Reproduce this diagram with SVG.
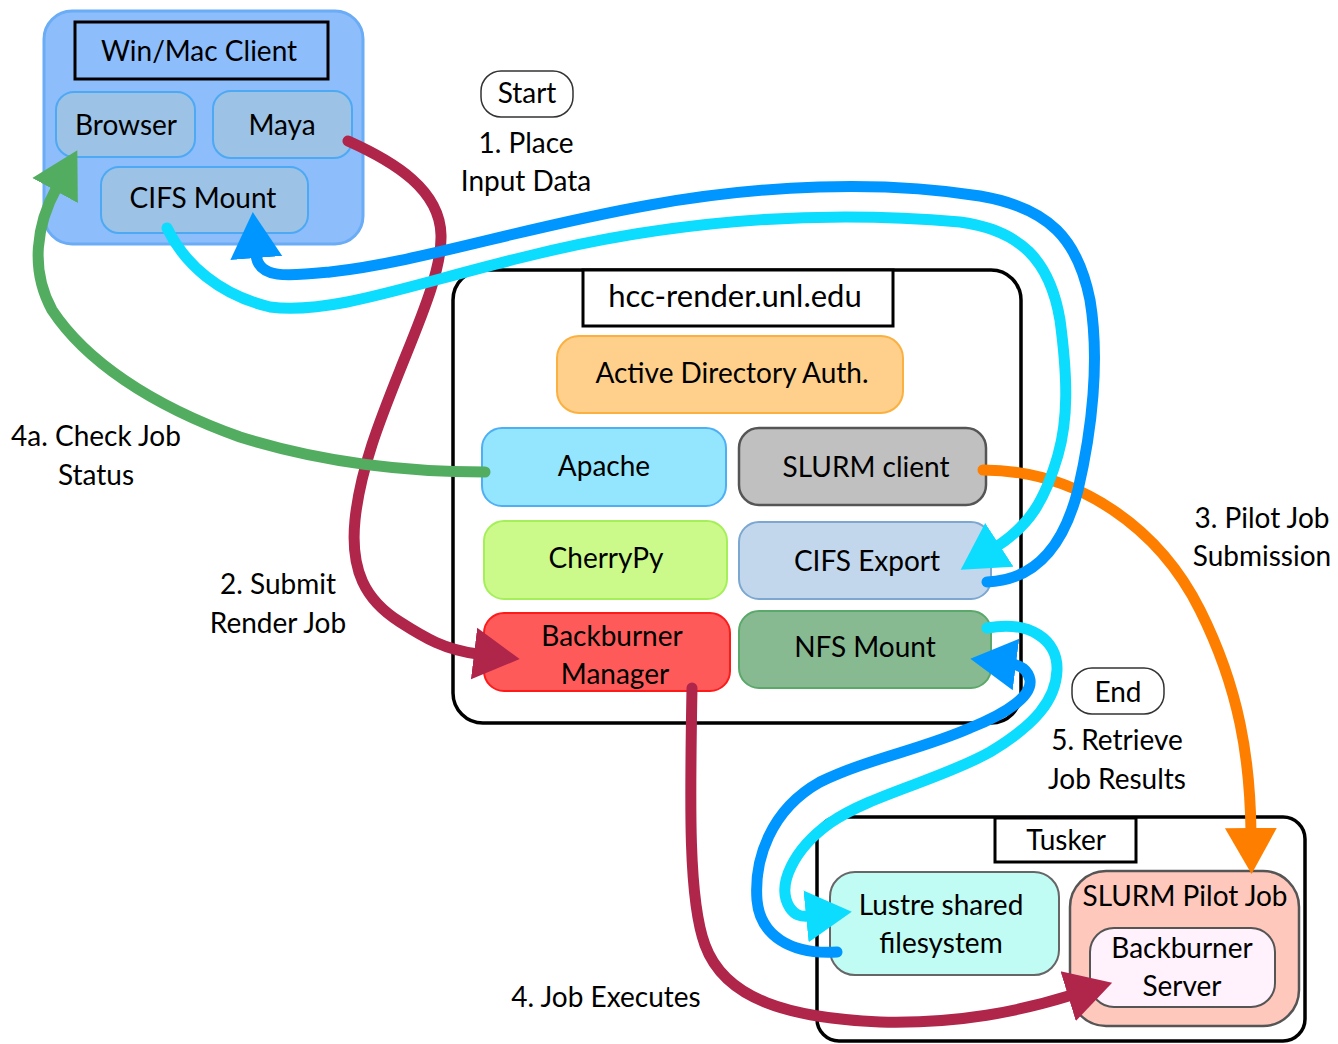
<svg xmlns="http://www.w3.org/2000/svg" width="1338" height="1044" viewBox="0 0 1338 1044">
<defs>
<style>
text{font-family:Lato,"Open Sans","Liberation Sans",sans-serif;font-size:28px;fill:#000;text-anchor:middle}
.big{font-size:31px}
.cont{fill:#fff;stroke:#000;stroke-width:3.5}
.ttl{fill:#fff;stroke:#000;stroke-width:3}
.pill{fill:#fff;stroke:#333;stroke-width:1.5}
.ln{fill:none;stroke-width:11;stroke-linecap:round}
</style>
<marker id="mRed" markerUnits="userSpaceOnUse" markerWidth="60" markerHeight="60" viewBox="0 0 60 60" refX="4" refY="30" orient="auto"><path d="M0,4 L46,30 L0,56 z" fill="#b0254a"/></marker>
<marker id="mGreen" markerUnits="userSpaceOnUse" markerWidth="60" markerHeight="60" viewBox="0 0 60 60" refX="4" refY="30" orient="auto"><path d="M0,4 L46,30 L0,56 z" fill="#53ad61"/></marker>
<marker id="mOrange" markerUnits="userSpaceOnUse" markerWidth="60" markerHeight="60" viewBox="0 0 60 60" refX="4" refY="30" orient="auto"><path d="M0,4 L46,30 L0,56 z" fill="#fe7f00"/></marker>
<marker id="mBlue" markerUnits="userSpaceOnUse" markerWidth="60" markerHeight="60" viewBox="0 0 60 60" refX="4" refY="30" orient="auto"><path d="M0,4 L46,30 L0,56 z" fill="#0096ff"/></marker>
<marker id="mCyan" markerUnits="userSpaceOnUse" markerWidth="60" markerHeight="60" viewBox="0 0 60 60" refX="4" refY="30" orient="auto"><path d="M0,4 L46,30 L0,56 z" fill="#0cdcfe"/></marker>
</defs>
<rect width="1338" height="1044" fill="#fff"/>

<g id="client">
<rect x="44" y="11" width="319" height="233" rx="28" fill="#8ebdfb" stroke="#6aacf5" stroke-width="3"/>
<rect x="75" y="22" width="253" height="57" fill="#8ebdfb" stroke="#000" stroke-width="3"/>
<text x="199" y="61">Win/Mac Client</text>
</g>
<g id="browser"><rect x="56" y="92" width="139" height="65" rx="18" fill="#9cc2e5" stroke="#4ea9f5" stroke-width="2"/><text x="126" y="135">Browser</text></g>
<g id="maya"><rect x="213" y="91" width="139" height="67" rx="18" fill="#9cc2e5" stroke="#4ea9f5" stroke-width="2"/><text x="282" y="135">Maya</text></g>
<g id="cifs-mount"><rect x="101" y="167" width="207" height="66" rx="18" fill="#9cc2e5" stroke="#4ea9f5" stroke-width="2"/><text x="203" y="208">CIFS Mount</text></g>

<g id="start"><rect x="481" y="71" width="92" height="46" rx="20" class="pill"/><text x="527" y="103">Start</text></g>
<g id="end"><rect x="1072" y="668" width="92" height="46" rx="20" class="pill"/><text x="1118" y="702">End</text></g>

<g id="hcc-render">
<rect x="453" y="270" width="568" height="453" rx="30" class="cont"/>
<rect x="583" y="270" width="310" height="56" class="ttl"/>
<text class="big" x="735" y="307">hcc-render.unl.edu</text>
</g>
<g id="ad-auth"><rect x="557" y="336" width="346" height="77" rx="22" fill="#ffd08c" stroke="#fbb040" stroke-width="2"/><text x="732" y="383">Active Directory Auth.</text></g>
<g id="apache"><rect x="482" y="428" width="244" height="78" rx="20" fill="#93e6fd" stroke="#4eaff5" stroke-width="2"/><text x="604" y="476">Apache</text></g>
<g id="slurm-client"><rect x="739" y="428" width="247" height="77" rx="20" fill="#c0c0c0" stroke="#555" stroke-width="2.5"/><text x="866" y="477">SLURM client</text></g>
<g id="cherrypy"><rect x="484" y="521" width="243" height="78" rx="20" fill="#ccfa8a" stroke="#a5f05a" stroke-width="2"/><text x="606" y="568">CherryPy</text></g>
<g id="cifs-export"><rect x="739" y="522" width="252" height="77" rx="20" fill="#c2d7ec" stroke="#7ba7d1" stroke-width="2"/><text x="867" y="571">CIFS Export</text></g>
<g id="backburner-manager"><rect x="484" y="613" width="246" height="78" rx="20" fill="#fe5a5a" stroke="#ff1a1a" stroke-width="2"/><text x="612" y="646">Backburner</text><text x="615" y="684">Manager</text></g>
<g id="nfs-mount"><rect x="739" y="611" width="252" height="77" rx="20" fill="#88ba92" stroke="#5aa86a" stroke-width="2"/><text x="865" y="657">NFS Mount</text></g>

<g id="tusker">
<rect x="817" y="817" width="488" height="224" rx="22" class="cont"/>
<rect x="995" y="818" width="141" height="44" class="ttl"/>
<text x="1066" y="850">Tusker</text>
</g>
<g id="lustre"><rect x="830" y="872" width="229" height="103" rx="25" fill="#c0fcf3" stroke="#666" stroke-width="2"/><text x="941" y="915">Lustre shared</text><text x="941" y="953">filesystem</text></g>
<g id="slurm-pilot"><rect x="1070" y="871" width="229" height="155" rx="36" fill="#fec8bd" stroke="#555" stroke-width="2.5"/><text x="1185" y="906">SLURM Pilot Job</text></g>
<g id="backburner-server"><rect x="1090" y="928" width="185" height="79" rx="24" fill="#fff2fd" stroke="#555" stroke-width="2"/><text x="1182" y="958">Backburner</text><text x="1182" y="996">Server</text></g>

<g id="connectors">
<path class="ln" stroke="#b0254a" marker-end="url(#mRed)" d="M348,141 C395,162 440,190 441,235 C442,270 420,320 400,370 C380,420 360,470 355,520 C350,570 365,600 400,622 C425,638 445,650 478,654"/>
<path class="ln" stroke="#b0254a" marker-end="url(#mRed)" d="M692,688 C690,800 688,900 705,945 C725,1000 790,1018 880,1022 C960,1024 1020,1011 1072,995"/>
<path class="ln" stroke="#53ad61" marker-end="url(#mGreen)" d="M485,472 C400,472 320,462 240,437 C150,405 85,360 52,310 C30,270 36,225 57,187"/>
<path class="ln" stroke="#fe7f00" marker-end="url(#mOrange)" d="M983,470 C1080,470 1160,530 1200,610 C1240,690 1250,760 1251,832"/>
<path class="ln" stroke="#0096ff" marker-end="url(#mBlue)" d="M987,582 C1040,580 1065,540 1078,490 C1092,430 1100,360 1090,300 C1078,240 1050,208 980,196 C880,180 760,185 650,205 C520,228 420,262 330,272 C290,276 258,280 256,254"/>
<path class="ln" stroke="#0cdcfe" marker-end="url(#mCyan)" d="M167,228 C185,265 220,295 270,307 C330,315 410,285 520,258 C650,225 800,208 960,222 C1020,230 1050,260 1060,320 C1068,380 1068,420 1058,455 C1045,500 1030,525 996,547"/>
<path class="ln" stroke="#0096ff" marker-end="url(#mBlue)" d="M837,952 C790,955 760,935 757,900 C754,860 770,810 820,782 C870,758 920,750 970,728 C1010,712 1032,695 1030,680 C1028,670 1020,665 1012,664"/>
<path class="ln" stroke="#0cdcfe" marker-end="url(#mCyan)" d="M987,628 C1030,620 1058,640 1057,670 C1056,700 1035,725 990,752 C940,780 870,795 830,823 C795,848 775,885 790,908 C795,915 800,917 810,916"/>
</g>

<g id="labels">
<text x="526" y="153">1. Place</text>
<text x="526" y="191">Input Data</text>
<text x="96" y="446">4a. Check Job</text>
<text x="96" y="485">Status</text>
<text x="278" y="594">2. Submit</text>
<text x="278" y="633">Render Job</text>
<text x="1262" y="528">3. Pilot Job</text>
<text x="1262" y="566">Submission</text>
<text x="1117" y="750">5. Retrieve</text>
<text x="1117" y="789">Job Results</text>
<text x="606" y="1007">4. Job Executes</text>
</g>
</svg>
